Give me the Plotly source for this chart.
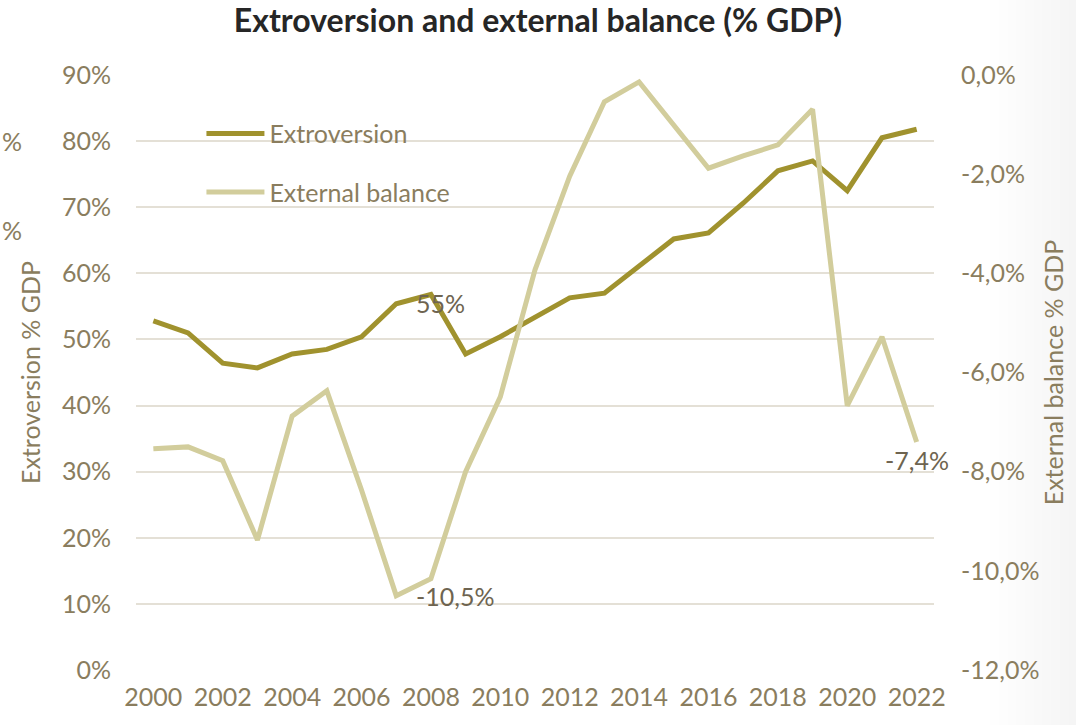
import plotly.graph_objects as go

years = list(range(2000, 2023))
extroversion = [52.8, 51.0, 46.4, 45.7, 47.8, 48.5, 50.4, 55.4, 56.8, 47.8, 50.4, 53.3,
                56.3, 57.0, 61.0, 65.2, 66.1, 70.6, 75.5, 77.0, 72.5, 80.5, 81.8]
external_balance = [-7.54, -7.50, -7.78, -9.38, -6.88, -6.37, -8.37, -10.5, -10.16, -8.0,
                    -6.49, -3.93, -2.04, -0.54, -0.14, -1.0, -1.88, -1.63, -1.41, -0.69,
                    -6.67, -5.28, -7.4]
left_ticks = list(range(0, 91, 10))
right_ticks = list(range(0, -13, -2))

DARK = "#A0922E"
LIGHT = "#D2CD9C"
TXT = "#8A7D5E"
LBL = "#6E6450"
GRID = "#E4E0D6"
FONT = "Lato, Open Sans, sans-serif"

fig = go.Figure()
fig.add_trace(go.Scatter(x=years, y=extroversion, name="Extroversion", mode="lines",
                         line=dict(color=DARK, width=5), legendgroup="a"))
fig.add_trace(go.Scatter(x=years, y=external_balance, name="External balance", mode="lines",
                         line=dict(color=LIGHT, width=5), yaxis="y2", legendgroup="b"))

def pct1(v):
    return f"{v:.1f}%".replace(".", ",")

i07 = years.index(2007)
i22 = years.index(2022)
ann = [
    dict(x=years[i07], y=extroversion[i07], xref="x", yref="y", text=f"{extroversion[i07]:.0f}%",
         xanchor="left", yanchor="middle", xshift=18, yshift=1, showarrow=False),
    dict(x=years[i07], y=external_balance[i07], xref="x", yref="y2", text=pct1(external_balance[i07]),
         xanchor="left", yanchor="middle", xshift=18, showarrow=False),
    dict(x=years[i22], y=external_balance[i22], xref="x", yref="y2", text=pct1(external_balance[i22]),
         xanchor="center", yanchor="top", yshift=-1, showarrow=False),
]
for a in ann:
    a["font"] = dict(family=FONT, size=25, color=LBL)

# percent signs at the left edge
for yy in (0.889, 0.739):
    ann.append(dict(x=-0.1704, y=yy, xref="paper", yref="paper", text="%", xanchor="left",
                    yanchor="middle", showarrow=False, font=dict(family=FONT, size=25, color=TXT)))

# soft shading on the right edge
shapes = []
steps = 10
for k in range(steps):
    x0 = 1.07 + k * 0.011
    shapes.append(dict(type="rect", xref="paper", yref="paper", x0=x0, x1=1.2,
                       y0=-0.1, y1=1.15, fillcolor="#E6E6E6", opacity=0.06,
                       line=dict(width=0), layer="below"))

fig.update_layout(
    width=1076, height=725,
    margin=dict(l=136, r=142, t=75, b=55),
    paper_bgcolor="white", plot_bgcolor="white",
    font=dict(family=FONT, color=TXT, size=24),
    title=dict(text="<b>Extroversion and external balance (% GDP)</b>", x=0.5, xanchor="center",
               y=0.972, yanchor="middle", font=dict(family=FONT, size=32, color="#262626")),
    showlegend=True,
    legend=dict(x=0.082, y=0.94, xanchor="left", yanchor="top", bgcolor="rgba(0,0,0,0)",
                font=dict(family=FONT, size=25, color=TXT), itemwidth=58,
                tracegroupgap=23),
    xaxis=dict(range=[1999.5, 2022.5], tickvals=years[::2], showgrid=False, zeroline=False,
               showline=False, ticks="", ticklabelstandoff=10, tickfont=dict(size=25, color=TXT)),
    yaxis=dict(range=[0, 90], tickvals=left_ticks, ticktext=[f"{t}%" for t in left_ticks],
               showgrid=True, gridcolor=GRID, gridwidth=2, zeroline=False,
               ticks="", ticklabelstandoff=24, tickfont=dict(size=25, color=TXT),
               title=dict(text="Extroversion % GDP", font=dict(size=25, color=TXT), standoff=14)),
    yaxis2=dict(range=[-12, 0], overlaying="y", side="right", tickvals=right_ticks,
                ticktext=[pct1(t) for t in right_ticks], showgrid=False, zeroline=False,
                ticks="", ticklabelstandoff=26, tickfont=dict(size=25, color=TXT),
                title=dict(text="External balance % GDP", font=dict(size=25, color=TXT), standoff=6)),
    annotations=ann,
    shapes=shapes,
)

fig.write_html("out.html")
